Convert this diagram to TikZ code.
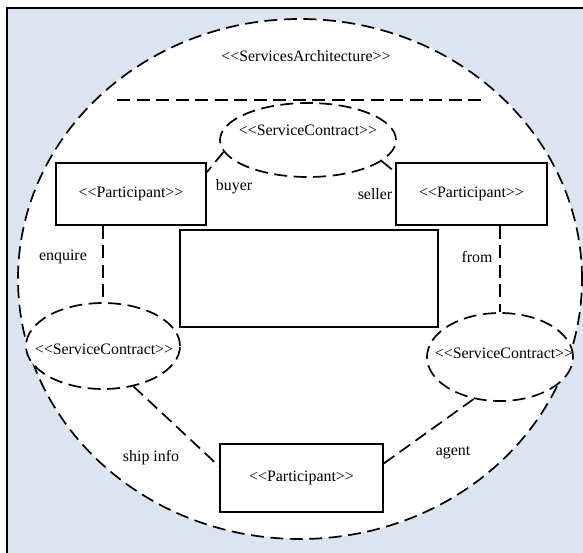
\documentclass[tikz,border=0pt]{standalone}
\usepackage{fontspec}
\setmainfont{Liberation Serif}
\usetikzlibrary{shapes.geometric,calc}
\definecolor{panelblue}{HTML}{DBE5F1}
% guillemet-free stereotype brackets (kern stops the TeX ligature mapping)
\newcommand\stereo[1]{<\kern0pt<#1>\kern0pt>}

\begin{document}
\begin{tikzpicture}[x=1pt,y=-1pt,
  font=\fontsize{15.9}{18}\selectfont,
  dashline/.style={line width=1.7pt, dash pattern=on 13pt off 6.5pt},
  partbox/.style={rectangle, draw, line width=1.5pt, fill=white, inner sep=0pt},
  contract/.style={ellipse, draw, dashline, fill=white, inner sep=0pt},
  lbl/.style={inner sep=0pt}]
\useasboundingbox (0,0) rectangle (583,552);
\clip (0,0) rectangle (583,552);

% panel
\draw[line width=2.2pt, fill=panelblue] (7,8) rectangle (600,570);

% services architecture
\node[contract, minimum width=564pt, minimum height=520pt] (arch) at (300,279) {};
\node[lbl] (archname) at (306,56) {\stereo{ServicesArchitecture}};
\coordinate (divl) at (117,100);
\coordinate (divr) at (484,100);
\draw[dashline] (divl) -- (divr);

% service contracts
\node[contract, minimum width=176pt, minimum height=74pt] (sctop) at (308,140) {};
\node[lbl] (sctoptext) at (308,130) {\stereo{ServiceContract}};
\node[contract, minimum width=154pt, minimum height=86pt] (scleft) at (103,346) {};
\node[lbl] (sclefttext) at (104,349) {\stereo{ServiceContract}};
\node[contract, minimum width=146pt, minimum height=88pt] (scright) at (500,357) {};
\node[lbl] (scrighttext) at (504,353) {\stereo{ServiceContract}};

% participants
\node[partbox, minimum width=150pt, minimum height=62pt] (pleft) at (131,194) {\stereo{Participant}};
\node[partbox, minimum width=151pt, minimum height=62pt] (pright) at (471.5,194) {\stereo{Participant}};
\node[partbox, minimum width=163pt, minimum height=68pt] (pbottom) at (301.5,478) {\stereo{Participant}};
\node[partbox, minimum width=258pt, minimum height=97pt] (core) at (309,278.5) {};

% connectors
\draw[dashline] (sctop.188) -- (pleft.16);
\draw[dashline] (sctop.344) -- (pright.164);
\draw[dashline] (pleft.south -| scleft.north) -- (scleft.north);
\draw[dashline] (pright.south -| scright.north) -- (scright.north);
\draw[dashline] (scleft.307) -- (pbottom.172);
\draw[dashline] (pbottom.10) -- (scright.238);

% role labels
\node[lbl] (lbuyer) at (234,187) {buyer};
\node[lbl] (lseller) at (375,194) {seller};
\node[lbl] (lenquire) at (63,257) {enquire};
\node[lbl] (lfrom) at (477,257) {from};
\node[lbl] (lship) at (151,458) {ship info};
\node[lbl] (lagent) at (453,453) {agent};
\end{tikzpicture}
\end{document}
